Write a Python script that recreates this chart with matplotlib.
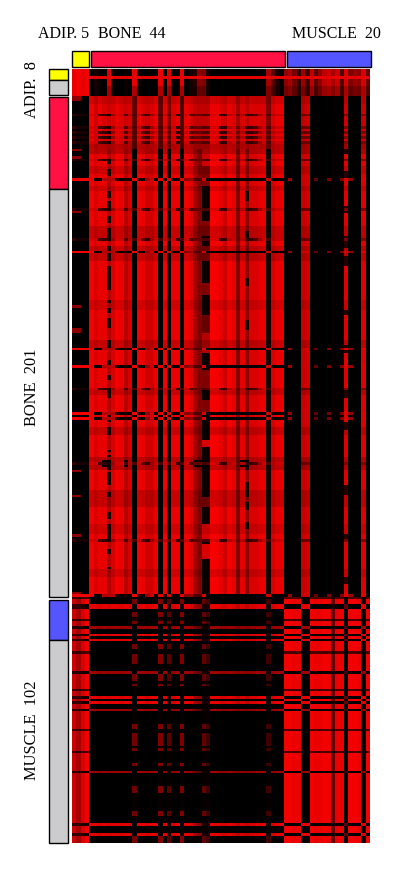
import numpy as np
import matplotlib
matplotlib.use("Agg")
import matplotlib.pyplot as plt
from matplotlib.colors import LinearSegmentedColormap
from matplotlib.patches import Rectangle

# ---------- data ----------
N_ADIP_ROWS, N_BONE_ROWS, N_MUSCLE_ROWS = 11, 201, 99
TOP_LABELS = ["ADIP. 5", "BONE  44", "MUSCLE  20"]
LEFT_LABELS = ["ADIP.  8", "BONE  201", "MUSCLE  102"]

ADIP_COLS = [.9,.95,.9,.95, 0,.1,.05,0,.85,.05,0,0,.05,0,.9,.05,0,0,0,0,.9,0,.85,0,0,.9,0,.1,.15,.55,.5,.1,0,0,0,0,0,0,0,0,0,0,0,0,0,.65,.35,.1,0,
             .55,.65,.45,.2,.6,.25,.75,.35,.55,.75,.8,.65,.8,.3,.85,.5,.6,.55,.85,.4]
BONE_COLS = [0,0,0,0, .95,.85,.92,.9,.7,.85,.95,.92,.72,.85,0,.95,.9,.82,.82,.92,0,.95,.03,.92,.92,0,.95,.88,.65,.5,.15,.15,
             .97,.95,.9,.8,.95,.9,.5,.9,.55,.85,.85,.9,.92,.1,.85,.92,.92,
             0,0,0,0,.78,.82,0,0,0,0,0,.03,0,0,.88,0,0,0,.88,0]
BONE_TOP_COLS = [0,0,0,0, .95,.8,.92,.85,.8,.85,.92,.85,.8,.85,.4,.92,.85,.8,.85,.92,.4,.92,.5,.85,.9,.3,.92,.85,.75,.75,.75,.75,
             .92,.92,.85,.8,.92,.85,.65,.85,.75,.85,.85,.85,.85,.5,.85,.92,.92,
             0,0,0,0,.75,.8,0,0,0,0,0,.02,0,0,.8,0,0,0,.8,0]
BONE_ACROSS = [.95,.95,.95,.95, .9,0,0,.7,.7,.7,.1,0,.1,0,.95,.1,0,.6,.8,0,.9,.1,.9,0,0,.9,.5,.6,.3,.3,.85,0,
               0,0,0,0,0,0,0,0,0,0,0,0,0,.8,0,0,0, 0,.6,0,0,.8,.8,0,.4,0,0,.5,0,0,.5,.9,.6,0,0,.9,0]
BONE_GAP = [.2,.1,.1,.1, .85,.8,.3,.2,.1,.6,.85,.8,.3,.7,.3,.8,.35,.2,.6,.8,.3,.8,.3,.8,.2,.3,.8,.3,.4,.4,.3,.3,
            .85,.8,.2,.2,.7,.8,.4,.7,.2,.2,.3,.6,.8,.3,.7,.8,.8, 0,0,0,0,.4,.4,0,0,0,0,0,0,0,0,.5,0,0,0,.5,0]
MUSCLE_COLS = [.8,.65,.85,.95, 0,0,0,0,0,0,0,0,0,0,.45,0,0,0,0,0,.5,0,.35,0,0,.5,0,0,0,0,.4,.25,
               0,0,0,0,0,0,0,0,0,0,0,0,0,.25,0,0,0,
               .95,.95,.92,.92,0,0,.95,.92,.92,.95,.92,.4,.92,.92,0,.95,.95,.92,0,.95]
MUSCLE_LINE = [.2,.2,.1,.1, .9,.9,.85,.9,.85,.9,.9,.85,.9,.85,0,.9,.9,.85,.9,.9,0,.9,.1,.85,.9,0,.9,.85,.65,.55,.1,.1,
               .9,.9,.85,.85,.9,.85,.75,.85,.75,.85,.85,.9,.9,.1,.85,.9,.9,
               0,0,0,0,.9,.9,0,0,0,0,0,.1,0,0,.4,0,0,0,.9,0]

ADIP_ACROSS_ROWS = [3]
ADIP_DIM_ROWS = [7, 8, 9, 10]
BONE_ADIP_RED_ROWS = [0, 1, 7, 21, 24, 46, 57, 84, 93, 94, 108, 127, 150, 160, 176, 199]
BONE_ACROSS_ROWS = [33, 62, 101, 108, 127, 129, 200]
BONE_GAP_ROWS = [7, 12, 14, 16, 18, 25, 45, 57, 117, 147, 178]
BONE_DIM_SPANS = [(0,3,.9),(19,23,.8),(28,31,.88),(36,38,.88),(52,57,.85),(60,66,.85),(82,86,.9),(98,101,.85),
                  (117,120,.85),(133,136,.85),(145,150,.8),(158,165,.85),(172,176,.9),(190,193,.88)]
COL8_DARK = [(25,27),(29,32),(38,41),(42,45),(48,51),(53,57),(60,63),(63,66),(68,71),(71,74),(74,78),
             (82,83),(85,87),(89,93),(98,101),(106,108),(112,114),(117,121),(127,131),(133,136),
             (142,143),(144,145),(146,150),(151,153),(153,156),(159,161),(167,170),(172,177),(177,179),(182,184),(189,190)]
COL30_SPANS = [(21,28,.8),(28,36,.5),(50,56,.5),(60,66,.5),(75,80,.5),(88,95,.4),(95,103,.7),(110,117,.5),
               (122,127,.5),(138,141,.85),(161,165,.5),(172,178,.85),(180,186,.85)]
COL40_DARK = [(38,42),(54,58),(73,76),(90,94),(146,150),(155,161),(163,166),(171,174)]
COL63_DARK = [(21,23),(30,33),(44,47),(56,61),(64,68),(86,88),(100,103),(118,121),(131,134),(156,160),(176,179),(193,196)]
BLOCK_GAP_ROWS = [146, 147, 148]
BLOCK_GAP_COLS = [7, 8, 12, 28, 29, 30, 31, 39, 40]
MUSCLE_LINE_ROWS = [3, 4, 15, 17, 40, 42, 91, 95]
MUSCLE_WEAK_ROWS = [12, 30, 45, 70]
MUSCLE_GAP_ROWS = [9, 0, 22, 37, 53, 62]
MUSCLE_SPIKE_SPANS = [(1,3),(6,8),(9,11),(19,21),(23,27),(31,34),(35,36),(51,53),(55,60),(61,62),(67,68),
                      (76,79),(86,88),(96,99)]

# ---------- matrix ----------
a = np.array(ADIP_COLS)
b = np.array(BONE_COLS)
bt = np.array(BONE_TOP_COLS)
m = np.array(MUSCLE_COLS)

adip_block = np.tile(a, (N_ADIP_ROWS, 1))
adip_block[ADIP_DIM_ROWS, 4:49] *= 0.75
adip_block[ADIP_DIM_ROWS, 49:] *= 0.8
adip_block[ADIP_ACROSS_ROWS, :] = np.maximum(adip_block[ADIP_ACROSS_ROWS, :], 0.9)

bone_block = np.tile(b, (N_BONE_ROWS, 1))
bone_block[:21] = bt
for s, e in COL8_DARK:
    bone_block[s:e, 8] = 0.08
bone_block[:, 30:32] = 0.05
bone_block[:21, 30:32] = 0.75
for s, e, v in COL30_SPANS:
    bone_block[s:e, 30:32] = v
for s, e in COL40_DARK:
    bone_block[s:e, 40] = 0.08
for s, e in COL63_DARK:
    bone_block[s:e, 63] = 0.15
for s, e, f in BONE_DIM_SPANS:
    bone_block[s:e] *= f
for r in BLOCK_GAP_ROWS:
    bone_block[r, BLOCK_GAP_COLS] = 0.02
bone_block[BONE_ADIP_RED_ROWS, 0:2] = 0.55
bone_block[BONE_GAP_ROWS] = np.array(BONE_GAP)
bone_block[BONE_ACROSS_ROWS] = np.array(BONE_ACROSS)

muscle_block = np.tile(m, (N_MUSCLE_ROWS, 1))
spike = np.zeros(N_MUSCLE_ROWS, bool)
for s, e in MUSCLE_SPIKE_SPANS:
    spike[s:e] = True
for c in [14, 20, 22, 25, 30, 31, 45]:
    muscle_block[~spike, c] = 0.03
muscle_block[MUSCLE_GAP_ROWS] = muscle_block[MUSCLE_GAP_ROWS] * 0.3
muscle_block[MUSCLE_LINE_ROWS] = np.array(MUSCLE_LINE)
muscle_block[MUSCLE_WEAK_ROWS] = np.array(MUSCLE_LINE) * 0.7

matrix = np.vstack([adip_block, bone_block, muscle_block])

# ---------- figure ----------
W, H = 400, 885
fig = plt.figure(figsize=(W/100, H/100), dpi=100, facecolor="white")
overlay = fig.add_axes([0, 0, 1, 1])
overlay.set_xlim(0, W); overlay.set_ylim(H, 0); overlay.axis("off")

cmap = LinearSegmentedColormap.from_list("br", ["#000000", "#ff0000"])
ax = fig.add_axes([72/W, 1-843/H, 298/W, 774/H])
ax.imshow(matrix, cmap=cmap, vmin=0, vmax=1, aspect="auto", interpolation="nearest")
ax.axis("off")

YEL, RED, BLU, GRY = "#ffff00", "#ff1144", "#5555ff", "#cccccf"
for x0, x1, c in [(72, 88.5, YEL), (91, 285, RED), (287, 370.5, BLU)]:
    overlay.add_patch(Rectangle((x0, 50.5), x1-x0, 16.5, fc=c, ec="black", lw=1))
for y0, y1, c in [(69, 79.5, YEL), (79.5, 95, GRY), (97, 189, RED), (189, 596.5, GRY), (600, 639.5, BLU), (639.5, 843, GRY)]:
    overlay.add_patch(Rectangle((48.5, y0), 19, y1-y0, fc=c, ec="black", lw=1))

for x, s in zip([38, 98, 292], TOP_LABELS):
    overlay.text(x, 34, s, ha="left", va="center", family="Liberation Serif", fontsize=11.5, color="black")
for y, s in zip([90, 387, 730], LEFT_LABELS):
    overlay.text(32, y, s, ha="center", va="center", rotation=90, family="Liberation Serif", fontsize=11.8, color="black")

fig.savefig("out.png", dpi=100, facecolor="white")
